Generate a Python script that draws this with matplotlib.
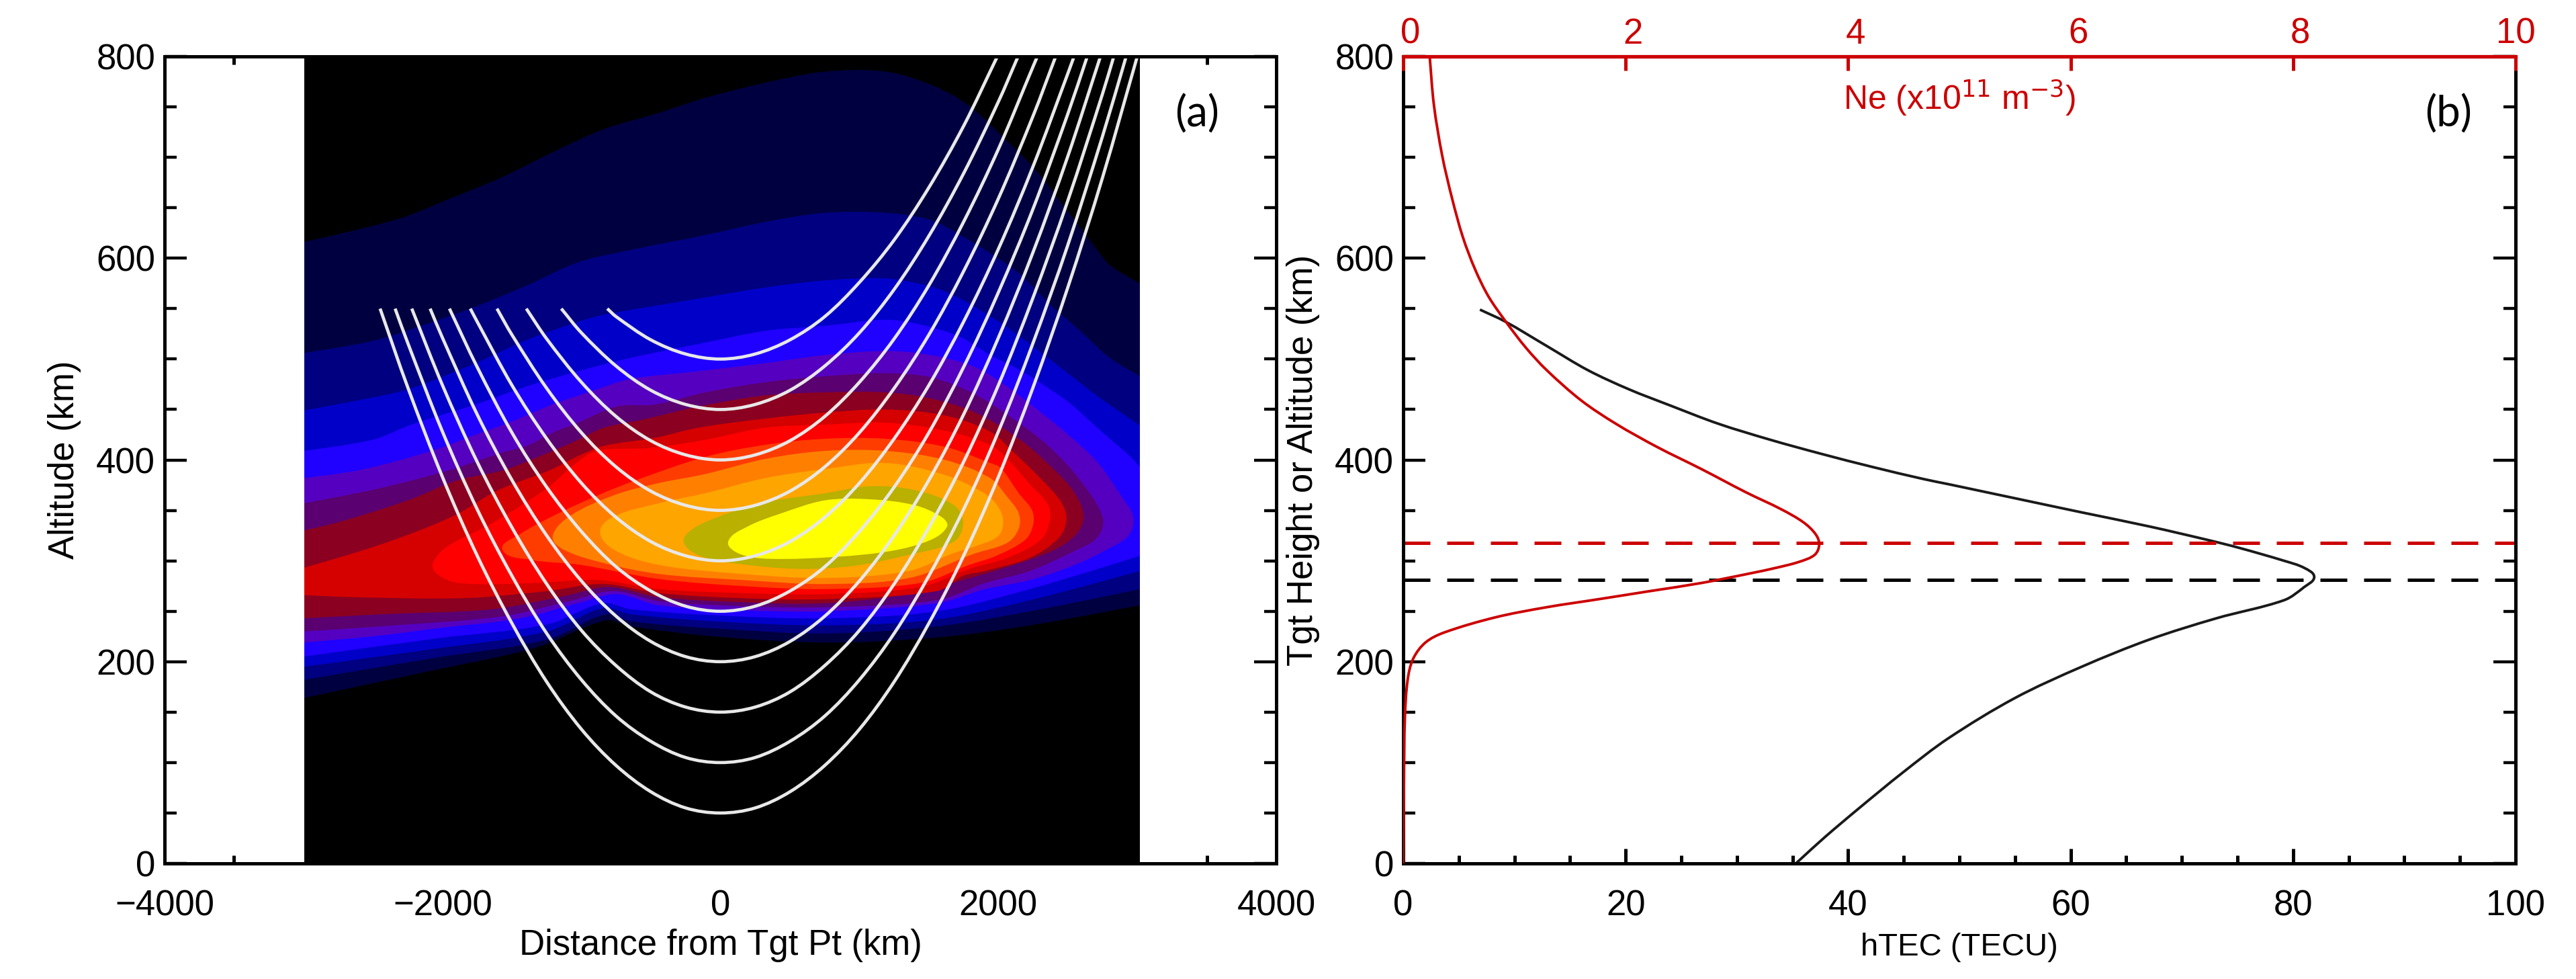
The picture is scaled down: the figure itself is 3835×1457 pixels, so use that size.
import numpy as np
import matplotlib
matplotlib.use('Agg')
import matplotlib.pyplot as plt
from matplotlib.patches import PathPatch
from matplotlib.path import Path
from matplotlib.ticker import MultipleLocator, FixedLocator
from matplotlib.transforms import ScaledTranslation

plt.rcParams['font.family'] = ['Liberation Sans', 'DejaVu Sans']

# Ne field bands, (distance km, altitude km) outlines, outer to inner
band_navy1 = [(-3000,616),(-2318,639),(-1948,659),(-1578,680),(-1208,705),(-838,728),(-468,743),(-109,759),(323,774),(754,785),(1186,785),(1531,771),(1790,751),(2049,718),(2265,688),(2481,650),(2696,611),(2804,593),(3020,575),
              (3020,256),(2227,236),(1558,224),(757,219),(-45,225),(-646,235),(-826,241),(-1327,214),(-2049,192),(-3000,164)]
band_navy2 = [(-3000,506),(-2503,518),(-2133,534),(-1763,552),(-1393,573),(-1023,596),(-653,608),(-109,623),(323,636),(754,645),(1186,645),(1510,638),(1725,623),(1941,605),(2157,584),(2373,554),(2589,528),(2804,501),(3020,483),
              (3020,272),(2227,250),(1558,235),(757,228),(-45,233),(-646,240),(-826,247),(-1247,222),(-2049,204),(-3000,182)]
band_navy3 = [(-3000,449),(-2503,462),(-2225,471),(-1763,496),(-1393,519),(-1023,537),(-838,544),(-157,560),(323,571),(754,578),(1186,580),(1510,572),(1725,560),(2049,533),(2265,511),(2481,488),(2696,465),(3020,434),
              (3020,290),(2227,261),(1558,242),(757,236),(-45,240),(-646,247),(-846,253),(-1247,230),(-2049,213),(-3000,195)]
band_blue = [(-3000,409),(-2503,420),(-2225,435),(-1763,455),(-1393,473),(-1023,488),(-653,501),(-157,515),(323,528),(754,533),(1186,539),(1445,534),(1725,522),(1941,504),(2157,489),(2373,470),(2517,456),(2711,432),(2952,403),(3020,393),
             (3020,305),(2227,272),(1558,250),(757,243),(-45,246),(-646,252),(-846,258),(-1247,237),(-2049,223),(-3000,205)]
band_purple = [(-3000,382),(-2595,390),(-2077,409),(-1763,425),(-1522,437),(-1208,455),(-930,468),(-653,480),(-157,488),(323,496),(754,504),(1186,508),(1510,504),(1833,492),(2049,474),(2260,452),(2485,427),(2711,398),(2880,365),(2972,343),
               (2936,325),(2791,312),(2550,296),(2227,281),(1905,272),(1558,258),(757,250),(156,251),(-445,256),(-746,267),(-1027,258),(-1447,243),(-2049,233),(-2449,226),(-3000,219)]
band_dpurple = [(-3000,357),(-2450,372),(-1948,390),(-1578,407),(-1393,414),(-1208,427),(-1023,437),(-745,453),(-468,455),(-109,467),(323,477),(754,483),(1186,486),(1510,482),(1833,465),(2195,432),(2389,410),(2582,381),(2751,343),
                (2711,323),(2550,310),(2227,290),(1905,278),(1559,261),(757,254),(156,255),(-445,260),(-766,270),(-1087,260),(-1568,245),(-2449,235),(-3000,230)]
band_crimson = [(-3000,330),(-2730,339),(-2249,360),(-1888,380),(-1559,390),(-1208,409),(-1023,420),(-838,432),(-560,440),(-157,453),(323,464),(754,467),(1186,467),(1510,461),(1833,447),(2147,421),(2389,392),(2550,367),(2614,343),
                (2550,325),(2389,310),(2066,294),(1744,281),(1400,268),(757,258),(156,259),(-445,264),(-806,274),(-1127,265),(-1648,252),(-2449,247),(-3000,243)]
band_dred = [(-3000,293),(-2449,316),(-1928,344),(-1600,370),(-1226,390),(-1023,404),(-838,414),(-468,422),(-157,432),(323,441),(754,447),(1186,450),(1617,444),(1941,428),(2115,407),(2308,381),(2453,358),(2490,341),
             (2437,323),(2227,303),(1905,290),(1744,285),(1559,270),(757,262),(156,263),(-445,268),(-846,277),(-1247,270),(-1848,263),(-2650,264),(-3000,266)]
band_red = [(-2069,298),(-1968,314),(-1648,337),(-1248,372),(-1047,396),(-893,409),(-500,412),(-109,420),(323,432),(754,435),(1186,437),(1617,429),(1941,415),(2066,401),(2227,376),(2356,356),(2372,341),
            (2308,321),(2066,303),(1792,292),(1438,274),(757,267),(156,268),(-445,272),(-886,281),(-1327,278),(-1888,278),(-2049,288)]
band_ored = [(-1568,311),(-1447,326),(-1167,347),(-846,367),(-606,380),(-109,403),(323,415),(754,421),(1186,421),(1617,413),(1941,397),(2018,392),(2147,367),(2243,350),(2251,336),
             (2195,321),(1986,305),(1792,296),(1438,278),(757,272),(156,275),(-445,282),(-1006,296),(-1367,301)]
band_orange = [(-1207,324),(-1087,344),(-766,365),(-445,377),(-109,386),(323,401),(754,409),(1186,409),(1617,400),(1941,382),(2066,363),(2147,347),(2147,332),
               (2066,318),(1825,307),(1358,283),(757,277),(156,281),(-445,287),(-846,298),(-1127,311)]
band_amber = [(-866,329),(-766,344),(-445,357),(-109,367),(323,382),(754,391),(1186,397),(1617,385),(1898,367),(1986,356),(2034,341),
              (2002,325),(1825,314),(1664,307),(1358,290),(757,283),(156,287),(-445,296),(-766,311)]
band_olive = [(-265,319),(-205,331),(-45,342),(276,357),(754,367),(1078,374),(1402,370),(1682,355),(1747,337),
              (1680,319),(1358,306),(957,295),(557,292),(76,298),(-165,306)]
band_yellow = [(56,319),(196,334),(436,347),(754,360),(1078,361),(1402,355),(1596,343),(1631,334),
               (1518,321),(1238,310),(837,304),(356,302),(136,307)]

bands = [band_navy1, band_navy2, band_navy3, band_blue, band_purple, band_dpurple, band_crimson,
         band_dred, band_red, band_ored, band_orange, band_amber, band_olive, band_yellow]
band_colors = ['#000040', '#000080', '#0000c8', '#2000ff', '#5500c0', '#5a0070', '#8b0020',
               '#d50000', '#ff0000', '#ff3c00', '#ff8000', '#ffa500', '#b9b000', '#ffff00']

# ray paths, one per tangent height
ray_x_500 = [-814,-750,-500,-250,0,250,500,750,1000,1250,1500,1750,1993]
ray_h_500 = [550,542,519,505,500,505,519,542,576,618,670,731,800]
ray_x_450 = [-1145,-1000,-750,-500,-250,0,250,500,750,1000,1250,1500,1750,2000,2142]
ray_h_450 = [550,526,493,469,455,450,455,469,493,526,569,622,684,755,800]
ray_x_400 = [-1397,-1250,-1000,-750,-500,-250,0,250,500,750,1000,1250,1500,1750,2000,2250,2281]
ray_h_400 = [550,520,477,443,419,405,400,405,419,443,477,520,573,636,708,790,800]
ray_x_350 = [-1608,-1500,-1250,-1000,-750,-500,-250,0,250,500,750,1000,1250,1500,1750,2000,2250,2413]
ray_h_350 = [550,524,471,427,393,369,355,350,355,369,393,427,471,524,587,659,741,800]
ray_x_300 = [-1800,-1750,-1500,-1250,-1000,-750,-500,-250,0,250,500,750,1000,1250,1500,1750,2000,2250,2500,2545]
ray_h_300 = [550,537,474,421,377,343,319,305,300,305,319,343,377,421,474,537,609,691,783,800]
ray_x_250 = [-1950,-1750,-1500,-1250,-1000,-750,-500,-250,0,250,500,750,1000,1250,1500,1750,2000,2250,2500,2640]
ray_h_250 = [550,492,427,373,329,294,270,255,250,255,270,294,329,373,427,492,566,649,743,800]
ray_x_200 = [-2089,-2000,-1750,-1500,-1250,-1000,-750,-500,-250,0,250,500,750,1000,1250,1500,1750,2000,2250,2500,2735]
ray_h_200 = [550,521,445,380,325,280,245,220,205,200,205,220,245,280,325,380,445,521,606,701,800]
ray_x_150 = [-2221,-2000,-1750,-1500,-1250,-1000,-750,-500,-250,0,250,500,750,1000,1250,1500,1750,2000,2250,2500,2750,2831]
ray_h_150 = [550,474,398,333,277,231,196,170,155,150,155,170,196,231,277,333,398,474,561,657,763,800]
ray_x_100 = [-2341,-2250,-2000,-1750,-1500,-1250,-1000,-750,-500,-250,0,250,500,750,1000,1250,1500,1750,2000,2250,2500,2750,2920]
ray_h_100 = [550,516,428,351,285,228,182,146,121,105,100,105,121,146,182,228,285,351,428,516,613,721,800]
ray_x_50 = [-2449,-2250,-2000,-1750,-1500,-1250,-1000,-750,-500,-250,0,250,500,750,1000,1250,1500,1750,2000,2250,2500,2750,3000]
ray_h_50 = [550,472,383,305,238,180,133,97,71,55,50,55,71,97,133,180,238,305,383,472,571,680,800]

rays = [(ray_x_500, ray_h_500), (ray_x_450, ray_h_450), (ray_x_400, ray_h_400), (ray_x_350, ray_h_350),
        (ray_x_300, ray_h_300), (ray_x_250, ray_h_250), (ray_x_200, ray_h_200), (ray_x_150, ray_h_150),
        (ray_x_100, ray_h_100), (ray_x_50, ray_h_50)]

# panel b profiles
htec_vals = [6.9,9.2,12.9,16.6,20.3,24,28.3,33,37.6,42.2,46.8,49,52,55,61,67.1,72.2,75.1,79.2,81,81.9,81,79.2,73.1,67.1,61,55,49,44.9,40.9,37.9,35.7,35.3]
htec_alt = [549,537,513,489,470,454,436,420,406,393,381,376,369,362,348,334,321,313,300,293,284,274,261,243,222,195,164,124,90,54,26,4,0]
ne_vals = [.238,.276,.35,.44,.536,.646,.767,.923,1.105,1.29,1.6,1.91,2.28,2.68,3.08,3.4,3.6,3.71,3.74,3.7,3.56,3.35,3.14,2.68,2.22,1.76,1.29,.83,.37,.2,.09,.04,.015,.007,0]
ne_alt = [800,752,702,659,621,589,562,537,511,489,459,436,413,391,368,351,338,326,316,306,299,293,288,278,270,262,254,244,229,219,203,182,144,82,0]
ne_peak_alt = 318
htec_peak_alt = 281

red = '#cc0000'
W, H = 3835, 1457
fig = plt.figure(figsize=(W / 200, H / 200), dpi=200)


def place(x0, x1):
    return fig.add_axes([x0 / W, 1 - 1285 / H, (x1 - x0) / W, (1285 - 84) / H])


def style_ticks(ax):
    ax.tick_params(axis='x', which='major', length=8, width=1.8, direction='in', labelsize=19, pad=14)
    ax.tick_params(axis='x', which='minor', length=4.4, width=1.8, direction='in')
    ax.tick_params(axis='y', which='major', length=12, width=1.6, direction='in', labelsize=19, pad=5)
    ax.tick_params(axis='y', which='minor', length=6.5, width=1.6, direction='in')
    ax.yaxis.set_major_locator(MultipleLocator(200))
    ax.yaxis.set_minor_locator(MultipleLocator(50))
    ax.set_ylim(0, 800)
    labels = ax.get_yticklabels()
    labels[0].set_va('bottom')
    labels[-1].set_va('top')
    for s in ax.spines.values():
        s.set_linewidth(1.8)


def bezier_path(ax, x, y, closed=False, corner_x=()):
    # curve through the read points, bezier handles worked out in pixels
    pts = ax.transData.transform(np.column_stack([x, y]))
    n = len(pts)
    dirs = []
    for i in range(n):
        if x[i] in corner_x:
            dirs.append(np.zeros(2))
            continue
        if closed:
            d = pts[(i + 1) % n] - pts[i - 1]
        else:
            d = pts[min(i + 1, n - 1)] - pts[max(i - 1, 0)]
        dirs.append(d / np.hypot(*d))
    verts = [pts[0]]
    codes = [Path.MOVETO]
    for i in range(n if closed else n - 1):
        j = (i + 1) % n
        seg = np.hypot(*(pts[j] - pts[i]))
        verts += [pts[i] + dirs[i] * seg / 3, pts[j] - dirs[j] * seg / 3, pts[j]]
        codes += [Path.CURVE4] * 3
    return Path(ax.transData.inverted().transform(np.array(verts)), codes)


# panel a
ax1 = place(245, 1900)
ax1.set_xlim(-4000, 4000)
ax1.set_axisbelow(True)
ax1.xaxis.set_major_locator(MultipleLocator(2000))
ax1.xaxis.set_minor_locator(FixedLocator([-3500, 3500]))
ax1.tick_params(which='both', top=True, right=True)
style_ticks(ax1)
field = ax1.axvspan(-2994, 3020, color='black', lw=0, zorder=1)
for band, col in zip(bands, band_colors):
    pts = np.array(band)
    patch = PathPatch(bezier_path(ax1, pts[:, 0], pts[:, 1], closed=True, corner_x=(-3000, 3020)),
                      facecolor=col, lw=0, zorder=1.2)
    ax1.add_patch(patch)
    patch.set_clip_path(field)
for rx, rh in rays:
    ax1.add_patch(PathPatch(bezier_path(ax1, rx, rh), fill=False, edgecolor='#e8e8e8', lw=1.7,
                            capstyle='butt', zorder=2))
ax1.set_xlabel('Distance from Tgt Pt (km)', fontsize=19, labelpad=3)
ax1.set_ylabel('Altitude (km)', fontsize=19, labelpad=8)
ax1.text(0.9287, 0.928, '(a)', transform=ax1.transAxes, family='Lato', fontsize=23, ha='center', va='center')

# panel b
ax2 = place(2089, 3745)
ax2.set_xlim(0, 100)
ax2.xaxis.set_major_locator(MultipleLocator(20))
ax2.xaxis.set_minor_locator(MultipleLocator(5))
ax2.tick_params(which='both', right=True, top=False)
style_ticks(ax2)
ax2.spines['top'].set_visible(False)
ax2.add_patch(PathPatch(bezier_path(ax2, htec_vals, htec_alt), fill=False, edgecolor='#1a1a1a', lw=1.4))
ax2.axhline(ne_peak_alt, color=red, lw=1.8, dashes=(8, 5))
ax2.axhline(htec_peak_alt, color='black', lw=1.8, dashes=(8, 5))
ax2.set_xlabel('hTEC (TECU)', fontsize=17, labelpad=5)
ax2.set_ylabel('Tgt Height or Altitude (km)', fontsize=19, labelpad=8)
ax2.text(0.9396, 0.928, '(b)', transform=ax2.transAxes, family='Lato', fontsize=23, ha='center', va='center')

top = ax2.twiny()
top.set_xlim(0, 10)
top.set_ylim(0, 800)
top.xaxis.set_major_locator(FixedLocator([0, 2, 4, 6, 8, 10]))
top.tick_params(axis='x', which='major', length=7.5, width=1.8, direction='in', colors=red, labelsize=19, pad=3)
nudge = ScaledTranslation(11 / 200, 0, fig.dpi_scale_trans)
for lab in top.get_xticklabels()[:-1]:
    lab.set_transform(lab.get_transform() + nudge)
top.add_patch(PathPatch(bezier_path(top, ne_vals, ne_alt), fill=False, edgecolor=red, lw=1.4))
for name, s in top.spines.items():
    s.set_visible(name == 'top')
top.spines['top'].set_color(red)
top.spines['top'].set_linewidth(1.9)
top.text(0.5, 0.949, r'Ne (x10$^{11}$ m$^{-3}$)', transform=top.transAxes, color=red, fontsize=18,
         ha='center', va='center', math_fontfamily='custom')

fig.savefig('out.png', dpi=200)
